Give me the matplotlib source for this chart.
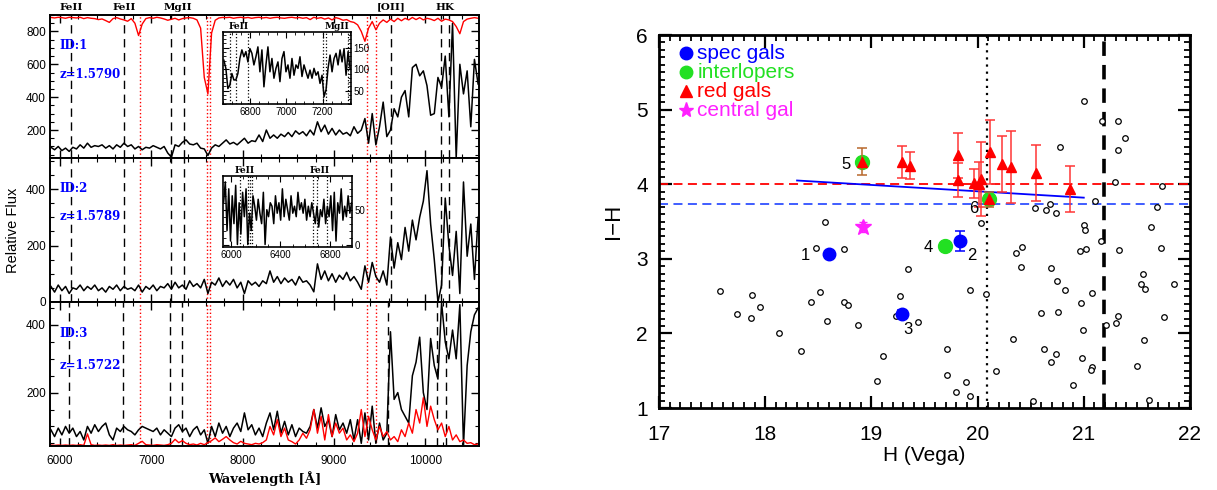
import numpy as np
import matplotlib.pyplot as plt
from matplotlib.ticker import MultipleLocator, FixedLocator

plt.rcParams['font.family'] = ['Liberation Sans', 'DejaVu Sans']

# ---------------- spectra (40 A steps from 5900 A)
spec1 = [95, 80, 100, 75, 90, 70, 95, 85, 110, 90,
         120, 95, 105, 100, 110, 90, 105, 85, 110, 95,
         120, 100, 110, 85, 100, 80, 95, 90, 105, 95,
         85, 100, 60, 35, 110, 100, 125, 140, 115, 110,
         120, 90, 85, 45, 90, 110, 100, 120, 140, 115,
         125, 110, 130, 150, 120, 135, 130, 170, 130, 200,
         150, 170, 150, 175, 160, 185, 160, 195, 175, 190,
         165, 200, 170, 250, 190, 230, 175, 210, 170, 200,
         175, 185, 165, 220, 180, 200, 270, 120, 300, 110,
         220, 370, 160, 200, 330, 280, 400, 440, 280, 580,
         600, 530, 560, 470, 290, 300, 520, 460, 650, 280,
         850, 30, 600, 420, 560, 220, 630, 480]
telluric1 = [885, 882, 886, 884, 880, 886, 884, 882, 886, 878,
             884, 880, 878, 872, 876, 866, 855, 878, 884, 876,
             870, 862, 878, 850, 775, 845, 878, 884, 880, 886,
             882, 876, 868, 874, 880, 870, 878, 882, 884, 880,
             870, 820, 520, 420, 790, 868, 882, 885, 884, 886,
             880, 884, 886, 882, 885, 880, 884, 886, 882, 885,
             880, 884, 886, 882, 880, 884, 886, 882, 885, 880,
             884, 872, 886, 880, 884, 875, 882, 870, 884, 878,
             868, 872, 860, 855, 840, 800, 740, 820, 860, 810,
             850, 870, 855, 875, 860, 880, 865, 880, 870, 885,
             872, 884, 870, 880, 875, 866, 880, 862, 875, 870,
             860, 830, 786, 860, 875, 880, 884, 880]
spec2 = [55, 35, 60, 40, 55, 30, 50, 45, 60, 40,
         55, 45, 60, 40, 50, 35, 55, 45, 60, 40,
         55, 45, 50, 40, 60, 35, 55, 45, 60, 40,
         55, 50, 65, 45, 70, 50, 60, 45, 75, 55,
         65, 50, 80, 30, 70, 60, 85, 55, 75, 60,
         80, 50, 70, 30, 75, 60, 70, 55, 75, 65,
         110, 70, 90, 65, 85, 70, 80, 60, 90, 70,
         75, 60, 36, 135, 80, 110, 75, 100, 70, 95,
         80, 105, 75, 90, 70, 45, 128, 70, 140, 90,
         70, 110, 60, 230, 120, 210, 150, 264, 180, 290,
         220, 300, 357, 465, 276, 150, 0, 60, 368, 200,
         94, 250, 30, 425, 162, 276, 80, 300]
spec3 = [90, 70, 95, 75, 100, 80, 95, 70, 85, 60,
         100, 80, 105, 85, 100, 110, 75, 60, 95, 85,
         100, 90, 85, 75, 90, 100, 95, 90, 85, 95,
         75, 90, 80, 70, 95, 105, 85, 95, 70, 90,
         100, 75, 90, 50, 100, 70, 110, 80, 100, 70,
         95, 110, 85, 140, 90, 105, 75, 95, 70, 110,
         140, 90, 145, 80, 115, 75, 105, 70, 95, 85,
         80, 100, 150, 95, 155, 100, 120, 70, 135, 90,
         110, 80, 120, 60, 120, 50, 140, 60, 160, 50,
         110, 60, 80, 380, 180, 200, 150, 130, 110, 250,
         290, 364, 200, 150, 360, 280, 240, 466, 350, 300,
         385, 300, 460, 43, 280, 380, 430, 450]
sky3 = [45, 44, 45, 44, 45, 44, 45, 44, 46, 44,
        78, 46, 44, 45, 44, 45, 44, 46, 44, 45,
        44, 45, 46, 44, 50, 56, 46, 45, 44, 46,
        45, 44, 46, 50, 62, 52, 58, 50, 46, 48,
        45, 50, 46, 52, 58, 66, 55, 62, 70, 60,
        52, 48, 56, 50, 48, 46, 50, 48, 52, 60,
        100, 75, 120, 70, 95, 60, 55, 48, 60, 80,
        65, 90, 150, 80, 130, 60, 135, 70, 110, 80,
        95, 60, 75, 55, 80, 150, 70, 130, 90, 60,
        100, 70, 85, 60, 70, 55, 90, 70, 110, 80,
        150, 110, 185, 100, 160, 120, 90, 110, 70, 100,
        60, 75, 55, 60, 50, 52, 46, 48]

ins1_flux = [121, 102, 55, 63, 90, 75, 75, 90, 125, 145, 129, 141, 117, 148, 137, 110,
             129, 152, 94, 145, 59, 110, 152, 94, 125, 79, 102, 117, 71, 125, 141, 94,
             110, 79, 125, 86, 110, 102, 129, 83, 110, 94, 79, 98, 79, 102, 86, 94,
             67, 86, 36, 52, 102, 133, 94, 125, 137, 110, 145, 117, 148, 86, 141, 102]
ins2_flux = [60, 90, 20, 80, 5, 70, 30, 85, 0, 60, 15, 75, 40, 80, 0, 45, 20, 70, 55, 35,
             65, 45, 30, 75, 0, 50, 40, 60, 55, 30, 70, 45, 60, 35, 80, 40, 65, 50, 35, 70,
             45, 55, 40, 75, 50, 60, 45, 65, 35, 55, 40, 60, 45, 30, 55, 25, 50, 40, 65, 30,
             55, 40, 70, 20, 75, 5, 60, 45, 80, 35, 55, 40, 70, 45, 60]

ids = ['ID:1', 'ID:2', 'ID:3']
zlabels = ['z=1.5790', 'z=1.5789', 'z=1.5722']
line_names = ['FeII', 'FeII', 'MgII', '[OII]', 'HK']
line_name_x = [6120, 6704, 7290, 9625, 10220]
lines_12 = [6120, 6704, 7216, 7362, 9625, 10173, 10265]
lines_3 = [6102, 6686, 7205, 7340, 9595, 10132, 10228]
tell_lines = [6876, 7607, 7643, 9359, 9458]
ins1_lines = [6690, 6721, 6787, 7200, 7218, 7341]
ins2_lines = [6073, 6140, 6153, 6167, 6665, 6697, 6773]

# ---------------- colour-magnitude data
field_H = [17.57, 17.73, 17.88, 17.87, 17.95, 18.13, 18.34, 18.43, 18.52, 18.48, 18.74,
           18.58, 18.74, 18.78, 18.87, 19.05, 19.11, 19.27, 19.23, 19.34, 19.44, 18.56,
           21.00, 21.17, 21.32, 21.39, 21.32, 20.78, 21.29, 21.74, 21.11, 20.68, 20.54,
           20.64, 20.74, 21.69, 20.03, 21.00, 21.01, 21.63, 21.16, 21.33, 21.73, 20.96,
           21.02, 20.36, 20.42, 20.41, 20.69, 20.75, 20.82, 21.08, 20.97, 21.56, 21.54,
           21.58, 21.85, 19.93, 20.08, 20.60, 20.76, 20.99, 21.32, 21.30, 21.21, 21.76,
           20.33, 20.63, 20.74, 20.69, 20.98, 21.57, 21.08, 21.07, 21.50, 19.71, 19.71,
           19.80, 19.89, 19.93, 20.17, 20.52, 20.90, 21.61]
field_IH = [2.57, 2.26, 2.52, 2.21, 2.35, 2.01, 1.77, 2.42, 2.56, 3.14, 3.13,
            2.16, 2.42, 2.38, 2.11, 1.36, 1.70, 2.50, 2.24, 2.86, 2.15, 3.50,
            5.12, 4.85, 4.85, 4.62, 4.46, 4.50, 4.03, 3.97, 3.77, 3.74, 3.68,
            3.65, 3.62, 3.69, 3.48, 3.45, 3.39, 3.42, 3.24, 3.12, 3.14, 3.10,
            3.13, 3.08, 3.16, 2.89, 2.88, 2.70, 2.58, 2.54, 2.41, 2.80, 2.66,
            2.60, 2.66, 2.58, 2.53, 2.28, 2.29, 2.05, 2.24, 2.14, 2.11, 2.22,
            1.92, 1.79, 1.72, 1.62, 1.67, 1.91, 1.55, 1.51, 1.56, 1.79, 1.44,
            1.21, 1.35, 1.16, 1.49, 1.10, 1.31, 1.11]

spec_H = [18.60, 19.83, 19.29]
spec_IH = [3.07, 3.24, 2.26]
spec_err = [0.0, 0.13, 0.05]
inter_H = [19.69, 18.91, 20.11]
inter_IH = [3.17, 4.30, 3.80]
red_H = [19.29, 19.36, 19.82, 19.82, 19.97, 20.01, 20.03, 20.12, 20.23, 20.31, 20.55, 20.87]
red_IH = [4.30, 4.25, 4.39, 4.06, 4.01, 4.00, 4.07, 4.43, 4.27, 4.23, 4.15, 3.94]
red_err = [0.21, 0.18, 0.30, 0.23, 0.20, 0.30, 0.49, 0.43, 0.37, 0.48, 0.38, 0.31]
red_on_inter_err = [0.18, 0.10]
central_H, central_IH, central_err = 18.92, 3.43, 0.07
id_text = ['1', '2', '3', '4', '5', '6']
id_H = [18.38, 19.95, 19.34, 19.54, 18.76, 19.96]
id_IH = [3.05, 3.05, 2.05, 3.15, 4.26, 3.68]
fit_H = [18.30, 21.00]
fit_IH = [4.05, 3.82]
red_seq, blue_seq = 4.00, 3.74
H_mid, H_lim = 20.09, 21.19

fig = plt.figure(figsize=(12.17, 4.9), dpi=100)

serif_bold = dict(family='DejaVu Serif', fontweight='bold')

def style_left(ax):
    for s in ax.spines.values():
        s.set_linewidth(1.4)
    ax.tick_params(which='both', direction='in', top=True, right=True, labelsize=8.5, pad=3)
    ax.tick_params(axis='x', pad=7)
    ax.tick_params(which='major', length=6, width=1)
    ax.tick_params(which='minor', length=3, width=0.8)
    ax.xaxis.set_major_locator(MultipleLocator(1000))
    ax.xaxis.set_minor_locator(MultipleLocator(200))
    ax.yaxis.set_major_locator(MultipleLocator(200))
    ax.yaxis.set_minor_locator(MultipleLocator(50))
    ax.set_xlim(5890, 10590)

panels = [
    dict(rect=[0.0411, 0.6776, 0.3525, 0.2918], flux=spec1, ylim=(30, 900), lines=lines_12),
    dict(rect=[0.0411, 0.3837, 0.3525, 0.2939], flux=spec2, ylim=(0, 510), lines=lines_12),
    dict(rect=[0.0411, 0.0904, 0.3525, 0.2933], flux=spec3, ylim=(43, 468), lines=lines_3),
]
id_y = [(0.79, 0.587), (0.79, 0.597), (0.784, 0.557)]
axes_left = []
for i, p in enumerate(panels):
    ax = fig.add_axes(p['rect'])
    style_left(ax)
    wl = 5900 + 40 * np.arange(len(p['flux']))
    for lam in p['lines']:
        ax.axvline(lam, color='k', ls=(0, (6, 4)), lw=1.0)
    for lam in tell_lines:
        ax.axvline(lam, color='red', ls=':', lw=1.0)
    ax.plot(wl, p['flux'], color='k', lw=1.1)
    ax.set_ylim(*p['ylim'])
    ax.text(0.023, id_y[i][0], ids[i], transform=ax.transAxes, color='blue',
            fontsize=8.5, va='center', **serif_bold)
    ax.text(0.023, id_y[i][1], zlabels[i], transform=ax.transAxes, color='blue',
            fontsize=8.5, va='center', **serif_bold)
    if i < 2:
        ax.tick_params(labelbottom=False)
    axes_left.append(ax)

ax1, ax2, ax3 = axes_left
ax1.plot(5900 + 40 * np.arange(len(telluric1)), telluric1, color='red', lw=1.0)
ax3.plot(5900 + 40 * np.arange(len(sky3)), sky3, color='red', lw=1.0)
ax1.yaxis.set_major_locator(FixedLocator([200, 400, 600, 800]))
ax3.yaxis.set_major_locator(FixedLocator([200, 400]))
for name, x in zip(line_names, line_name_x):
    ax1.text(x, 1.055, name, transform=ax1.get_xaxis_transform(), ha='center',
             va='center', fontsize=7.5, **serif_bold)
ax3.set_xlabel('Wavelength [Å]', fontsize=9.5, labelpad=3, **serif_bold)
fig.text(0.011, 0.53, 'Relative Flux', rotation=90, ha='center', va='center', fontsize=10.5)

# insets
def style_inset(ax):
    for s in ax.spines.values():
        s.set_linewidth(1.2)
    ax.tick_params(which='both', direction='in', top=True, right=True, labelsize=7,
                   pad=2, labelleft=False, labelright=True)
    ax.tick_params(which='major', length=4, width=0.8)
    ax.tick_params(which='minor', length=2, width=0.6)

ins1 = fig.add_axes([0.1832, 0.7878, 0.1049, 0.1463])
style_inset(ins1)
for lam in ins1_lines:
    ins1.axvline(lam, color='k', ls=':', lw=0.9)
ins1.plot(np.linspace(6655, 7352, len(ins1_flux)), ins1_flux, color='k', lw=1.1)
ins1.set_xlim(6650, 7355)
ins1.set_ylim(19, 186)
ins1.xaxis.set_major_locator(MultipleLocator(200))
ins1.xaxis.set_minor_locator(MultipleLocator(50))
ins1.yaxis.set_major_locator(MultipleLocator(50))
ins1.yaxis.set_minor_locator(MultipleLocator(10))
ins1.text(6736, 1.02, 'FeII', transform=ins1.get_xaxis_transform(), ha='center',
          va='bottom', fontsize=6.5, **serif_bold)
ins1.text(7277, 1.02, 'MgII', transform=ins1.get_xaxis_transform(), ha='center',
          va='bottom', fontsize=6.5, **serif_bold)

ins2 = fig.add_axes([0.1832, 0.4953, 0.1062, 0.1449])
style_inset(ins2)
for lam in ins2_lines:
    ins2.axvline(lam, color='k', ls=':', lw=0.9)
ins2.plot(np.linspace(5940, 6975, len(ins2_flux)), ins2_flux, color='k', lw=1.1)
ins2.set_xlim(5935, 6980)
ins2.set_ylim(-4, 98)
ins2.xaxis.set_major_locator(MultipleLocator(400))
ins2.xaxis.set_minor_locator(MultipleLocator(100))
ins2.yaxis.set_major_locator(MultipleLocator(50))
ins2.yaxis.set_minor_locator(MultipleLocator(10))
ins2.text(6111, 1.02, 'FeII', transform=ins2.get_xaxis_transform(), ha='center',
          va='bottom', fontsize=6.5, **serif_bold)
ins2.text(6716, 1.02, 'FeII', transform=ins2.get_xaxis_transform(), ha='center',
          va='bottom', fontsize=6.5, **serif_bold)

# ---------------- right panel
ax = fig.add_axes([0.5415, 0.1673, 0.4363, 0.7612])
for s in ax.spines.values():
    s.set_linewidth(2)
ax.tick_params(which='both', direction='in', top=True, right=True, labelsize=15)
ax.tick_params(which='major', length=9, width=1.6)
ax.tick_params(which='minor', length=4.5, width=1.3)
ax.tick_params(axis='x', pad=12)
ax.tick_params(axis='y', pad=8)
ax.xaxis.set_major_locator(MultipleLocator(1))
ax.xaxis.set_minor_locator(MultipleLocator(0.1))
ax.yaxis.set_major_locator(MultipleLocator(1))
ax.yaxis.set_minor_locator(MultipleLocator(0.1))
ax.set_xlim(17, 22)
ax.set_ylim(1, 6)

ax.axhline(red_seq, color='red', ls=(0, (5, 3)), lw=1.3)
ax.axhline(blue_seq, color='#3050ff', ls=(0, (5, 3)), lw=1.3)
ax.axvline(H_mid, color='k', ls=(0, (1, 2.2)), lw=1.6)
ax.axvline(H_lim, color='k', ls=(0, (4, 2.5)), lw=2.6)
ax.plot(field_H, field_IH, 'o', ms=4, mfc='white', mec='k', mew=0.9, ls='none')
ax.plot(fit_H, fit_IH, color='blue', lw=1.3)

ax.plot(inter_H, inter_IH, 'o', ms=10, color='#22e022', ls='none', zorder=4)
ax.errorbar(red_H, red_IH, yerr=red_err, fmt='^', ms=7, color='red', ecolor='#ff3535',
            elinewidth=1.1, capsize=3.5, capthick=1.1, zorder=5)
ax.errorbar(inter_H[1:], inter_IH[1:], yerr=red_on_inter_err, fmt='^', ms=7, color='red',
            ecolor='#b8682c', elinewidth=1.1, capsize=3.5, capthick=1.1, zorder=5)
ax.errorbar(spec_H, spec_IH, yerr=spec_err, fmt='o', ms=9, color='blue',
            elinewidth=1.1, capsize=3.5, capthick=1.1, zorder=5)
ax.errorbar([central_H], [central_IH], yerr=[central_err], fmt='*', ms=12, color='#ff20ff',
            elinewidth=1.1, capsize=3, zorder=5)
for t, x, y in zip(id_text, id_H, id_IH):
    ax.text(x, y, t, fontsize=12, ha='center', va='center', zorder=6)

leg_y = [0.951, 0.900, 0.849, 0.799]
leg_labels = ['spec gals', 'interlopers', 'red gals', 'central gal']
leg_colors = ['blue', '#22e022', 'red', '#ff20ff']
leg_markers = ['o', 'o', '^', '*']
leg_ms = [9, 9, 8, 11]
for y, lab, c, m, s in zip(leg_y, leg_labels, leg_colors, leg_markers, leg_ms):
    ax.plot([0.05], [y], marker=m, ms=s, color=c, transform=ax.transAxes, ls='none')
    ax.text(0.072, y, lab, color=c, fontsize=15, va='center', transform=ax.transAxes)

ax.set_xlabel('H (Vega)', fontsize=15, labelpad=2)
ax.set_ylabel('I−H', fontsize=16, labelpad=9)

fig.savefig('out.png', dpi=100)
